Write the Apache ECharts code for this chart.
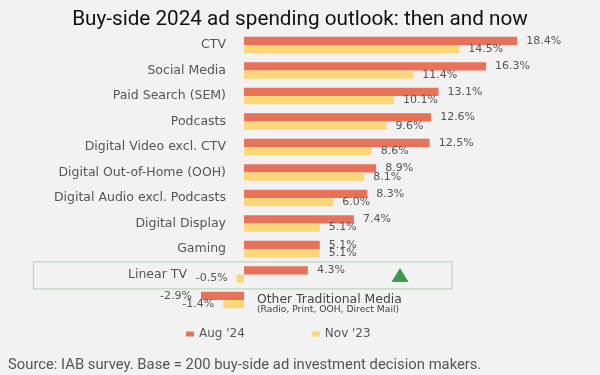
<!DOCTYPE html>
<html>
<head>
<meta charset="utf-8">
<script src="https://cdn.jsdelivr.net/npm/echarts@6/dist/echarts.min.js"></script>
<style>
  html, body { margin: 0; padding: 0; background: #f2f2f2; }
  #chart { width: 600px; height: 375px; }
</style>
</head>
<body>
<div id="chart"></div>
<script>
const categories = [
  'CTV', 'Social Media', 'Paid Search (SEM)', 'Podcasts', 'Digital Video excl. CTV',
  'Digital Out-of-Home (OOH)', 'Digital Audio excl. Podcasts', 'Digital Display',
  'Gaming', 'Linear TV', 'Other Traditional Media'
];
const aug24 = [18.4, 16.3, 13.1, 12.6, 12.5, 8.9, 8.3, 7.4, 5.1, 4.3, -2.9];
const nov23 = [14.5, 11.4, 10.1, 9.6, 8.6, 8.1, 6.0, 5.1, 5.1, -0.5, -1.4];
const seriesNames = ["Aug '24", "Nov '23"];
const highlighted = 'Linear TV';

const ORANGE = '#e8715a';
const YELLOW = '#fad87a';
const labelFont = 'DejaVu Sans';

function barData(values) {
  return values.map(v => v < 0 ? { value: v, label: { position: 'left' } } : v);
}

function catData() {
  return categories.map(c => {
    if (c === 'Linear TV') {
      return { value: c, textStyle: { padding: [0, 39, 0, 0] } };
    }
    if (c === 'Other Traditional Media') {
      return { value: c, textStyle: { align: 'left', padding: [10, 0, 0, 31] } };
    }
    return c;
  });
}

const chart = echarts.init(document.getElementById('chart'));
chart.setOption({
  backgroundColor: '#f2f2f2',
  animation: false,
  title: [
    {
      text: 'Buy-side 2024 ad spending outlook: then and now',
      left: 'center',
      top: 4,
      textStyle: { fontFamily: 'Roboto', fontSize: 20.7, fontWeight: 'normal', color: '#111' }
    },
    {
      text: 'Source: IAB survey. Base = 200 buy-side ad investment decision makers.',
      left: 3,
      top: 353,
      textStyle: { fontFamily: 'Roboto', fontSize: 14.8, fontWeight: 'normal', color: '#555' }
    }
  ],
  legend: {
    left: 181,
    top: 323,
    itemWidth: 8,
    itemHeight: 5,
    itemGap: 67,
    icon: 'rect',
    textStyle: { fontFamily: labelFont, fontSize: 12, color: '#555' },
    data: seriesNames
  },
  grid: { left: 199.5, right: 29.3, top: 32.3, bottom: 62.3, containLabel: false },
  xAxis: {
    type: 'value',
    min: -3,
    max: 22,
    show: false
  },
  yAxis: {
    type: 'category',
    inverse: true,
    data: catData(),
    axisLine: { show: false },
    axisTick: { show: false },
    axisLabel: {
      // labels sit 18px left of the zero line, which is 3 units (44.5px) inside the grid
      margin: -26.5,
      fontFamily: labelFont,
      fontSize: 12.5,
      color: '#555',
      formatter: v => v === 'Other Traditional Media'
        ? '{a|Other Traditional Media}\n{b|(Radio, Print, OOH, Direct Mail)}'
        : v,
      rich: {
        a: { fontFamily: labelFont, fontSize: 12.4, color: '#444', lineHeight: 10 },
        b: { fontFamily: labelFont, fontSize: 9.2, color: '#444', lineHeight: 10 }
      }
    }
  },
  series: [
    {
      name: seriesNames[0],
      type: 'bar',
      data: barData(aug24),
      barWidth: 8.3,
      barGap: '0%',
      itemStyle: { color: ORANGE },
      label: {
        show: true,
        position: 'right',
        distance: 9,
        formatter: p => p.value.toFixed(1) + '%',
        fontFamily: labelFont,
        fontSize: 11,
        color: '#555'
      }
    },
    {
      name: seriesNames[1],
      type: 'bar',
      data: barData(nov23),
      barWidth: 8.3,
      barGap: '0%',
      itemStyle: { color: YELLOW },
      label: {
        show: true,
        position: 'right',
        distance: 9,
        formatter: p => p.value.toFixed(1) + '%',
        fontFamily: labelFont,
        fontSize: 11,
        color: '#555'
      }
    }
  ]
});

// highlight box and arrow around the Linear TV row
const rowY = chart.convertToPixel({ yAxisIndex: 0 }, highlighted);
const triX = 400;
chart.setOption({
  graphic: [
    {
      type: 'rect',
      shape: { x: 33.5, y: rowY - 12.5, width: 418.5, height: 27 },
      style: { fill: 'none', stroke: '#bcd7bd', lineWidth: 1.3 }
    },
    {
      type: 'polygon',
      shape: { points: [[triX - 8.5, rowY + 7.5], [triX + 8.5, rowY + 7.5], [triX, rowY - 6.5]] },
      style: { fill: '#3d9a4d' }
    }
  ]
});
</script>
</body>
</html>
